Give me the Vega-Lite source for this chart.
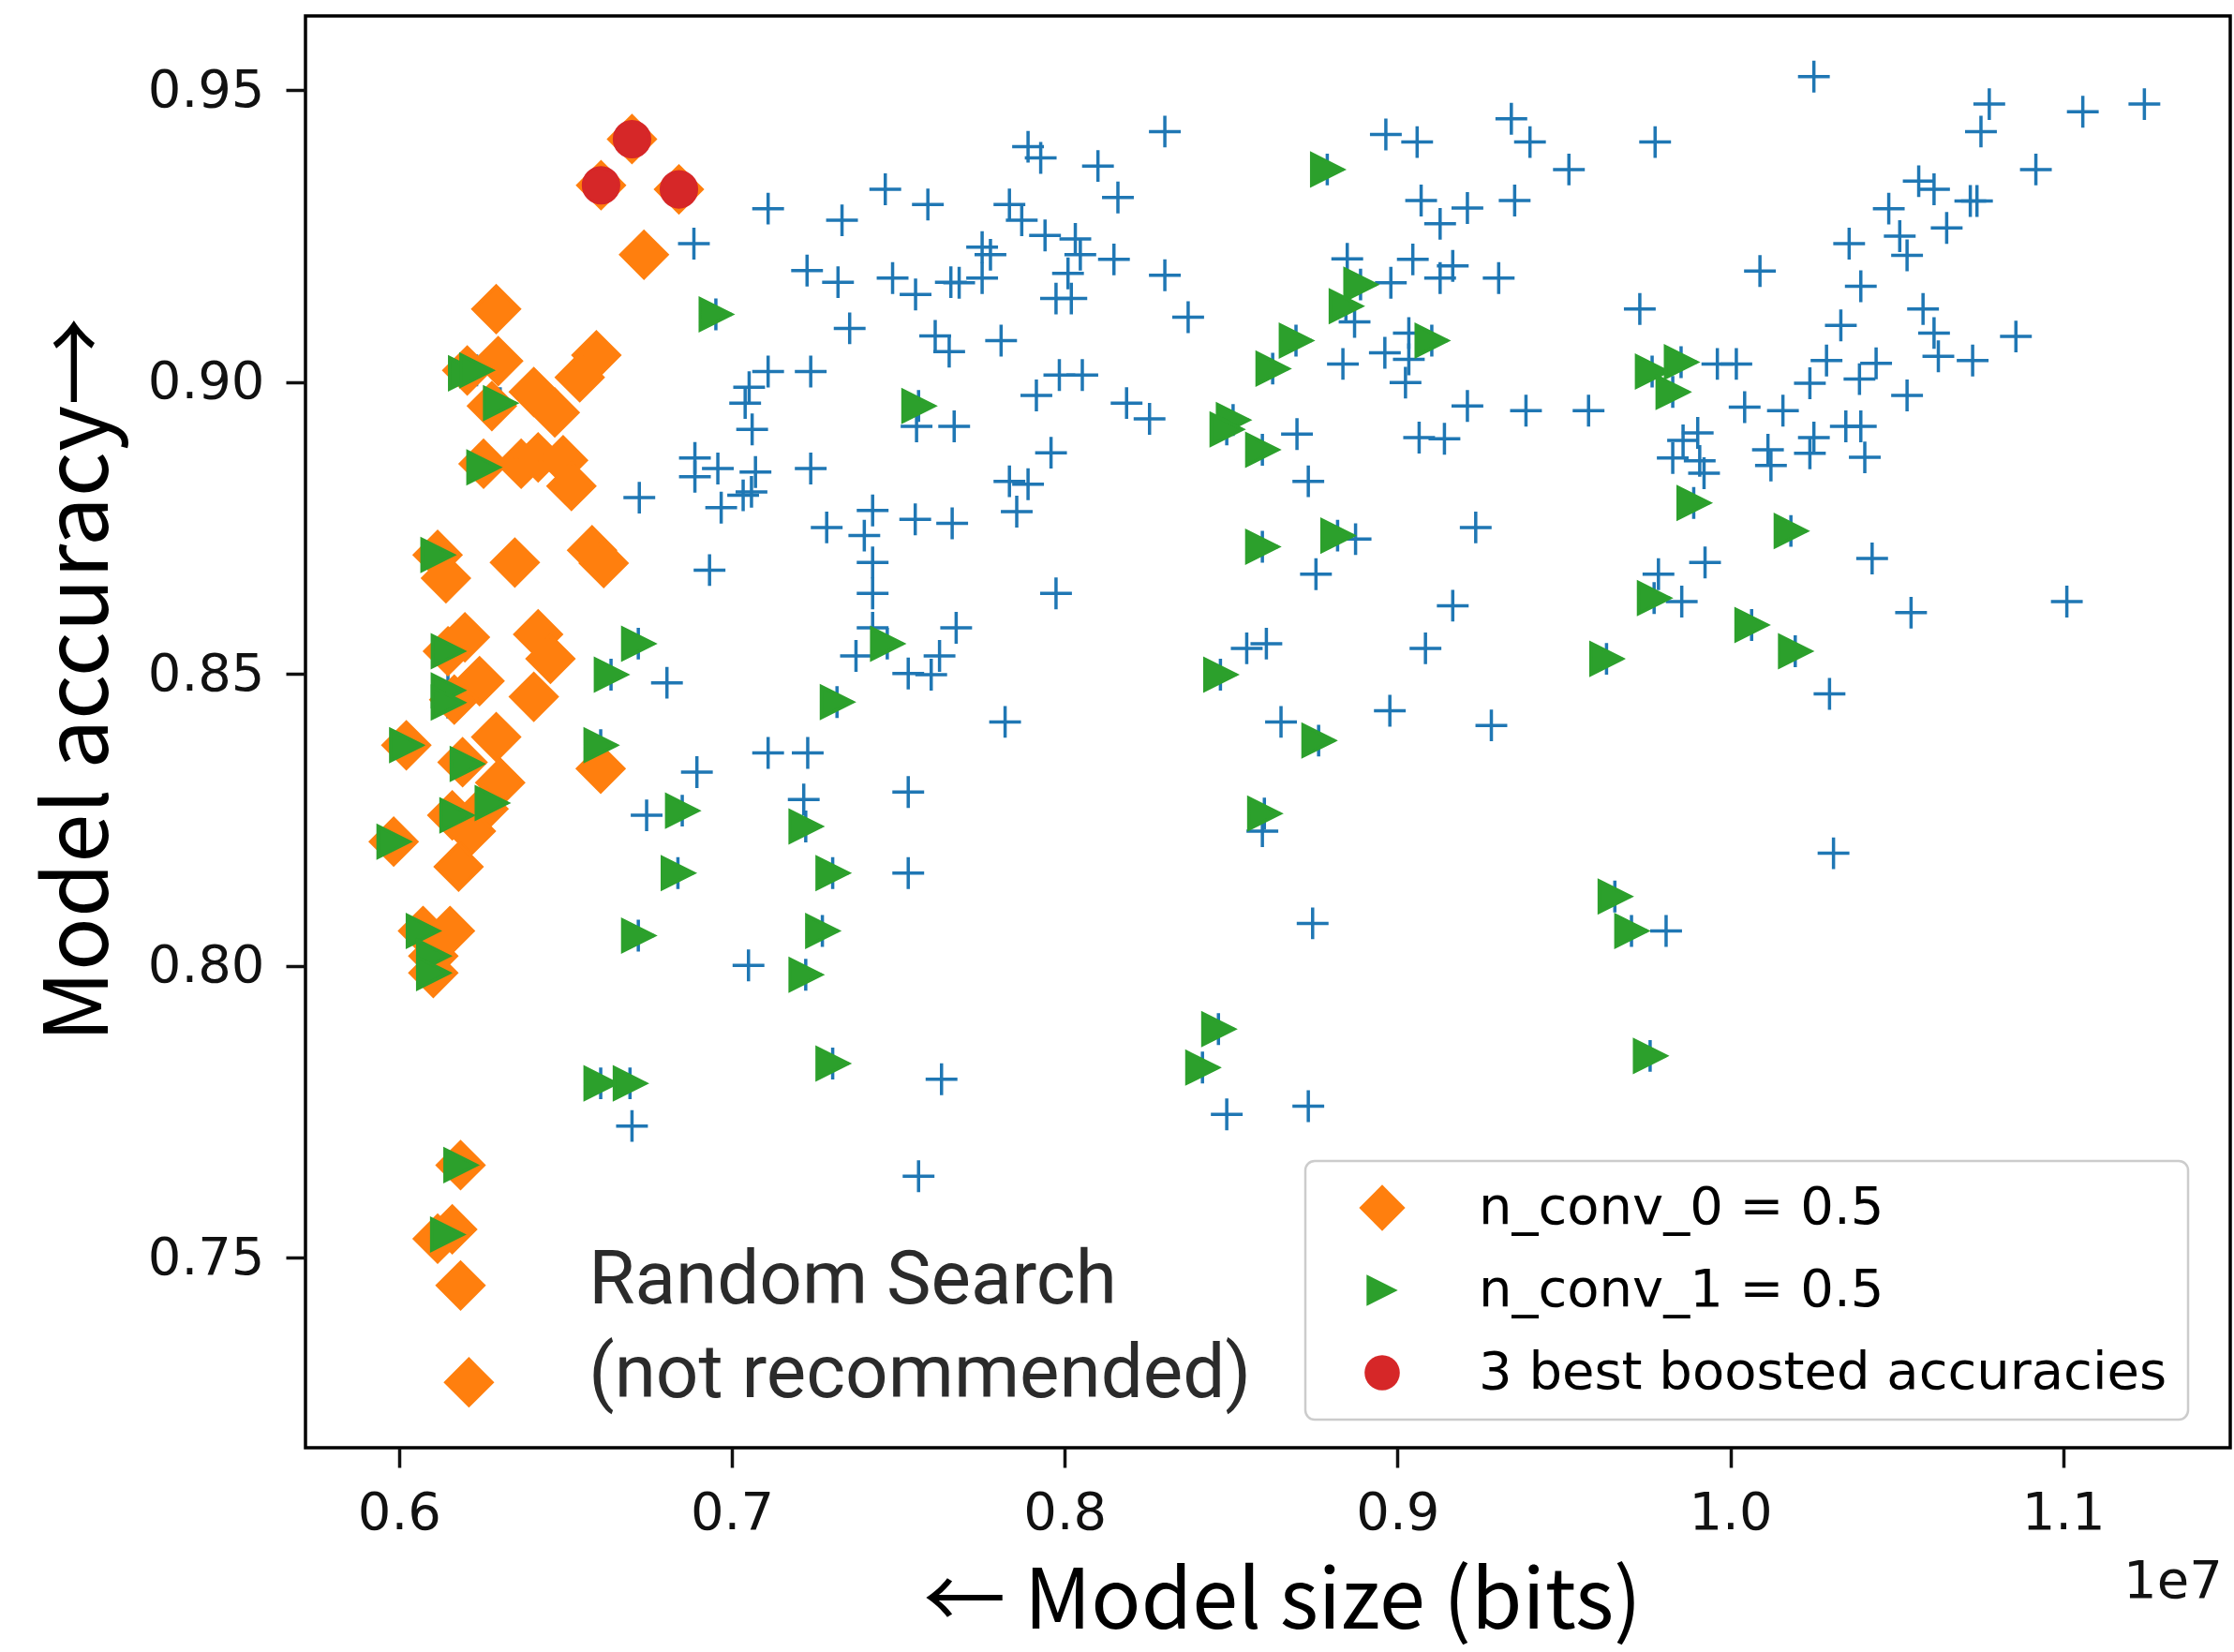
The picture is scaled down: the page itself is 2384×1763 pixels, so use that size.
{
"$schema": "https://vega.github.io/schema/vega-lite/v6.json",
"width": 2054,
"height": 1528,
"autosize": "none",
"padding": {"left": 326, "top": 17, "right": 4, "bottom": 218},
"background": "white",
"config": {
  "view": {"stroke": "#000000", "strokeWidth": 3.5},
  "axis": {"grid": false, "domain": false, "labelFont": "DejaVu Sans", "labelFontSize": 56, "labelColor": "#111111", "tickColor": "#111111", "tickSize": 21, "tickWidth": 3.5, "labelFlush": false, "titleFont": "Noto Sans CJK JP", "titleFontSize": 90, "titleFontWeight": "normal", "titleColor": "#000000"},
  "legend": {"labelFont": "DejaVu Sans", "labelFontSize": 56, "labelColor": "#000000", "padding": 22, "rowPadding": 32, "symbolOffset": 32, "labelOffset": 75, "symbolSize": 2809, "symbolStrokeWidth": 0, "fillColor": "rgba(255,255,255,0.8)", "strokeColor": "#cccccc", "strokeWidth": 2.5, "cornerRadius": 10, "labelLimit": 3000}
},
"layer": [
{
"data": {"values": [
{"bits":6886000,"acc":0.9237,"group":"all"},{"bits":7109000,"acc":0.9297,"group":"all"},{"bits":7331000,"acc":0.9277,"group":"all"},{"bits":7461000,"acc":0.9330,"group":"all"},{"bits":7589000,"acc":0.9304,"group":"all"},{"bits":7226000,"acc":0.9191,"group":"all"},{"bits":7319000,"acc":0.9171,"group":"all"},{"bits":7483000,"acc":0.9178,"group":"all"},{"bits":7552000,"acc":0.9150,"group":"all"},{"bits":7658000,"acc":0.9171,"group":"all"},
{"bits":7683000,"acc":0.9170,"group":"all"},{"bits":7354000,"acc":0.9092,"group":"all"},{"bits":7611000,"acc":0.9079,"group":"all"},{"bits":7653000,"acc":0.9052,"group":"all"},{"bits":7109000,"acc":0.9018,"group":"all"},{"bits":7237000,"acc":0.9018,"group":"all"},{"bits":7052000,"acc":0.8991,"group":"all"},{"bits":7040000,"acc":0.8964,"group":"all"},{"bits":7061000,"acc":0.8919,"group":"all"},{"bits":6889000,"acc":0.8870,"group":"all"},
{"bits":6889000,"acc":0.8838,"group":"all"},{"bits":6958000,"acc":0.8852,"group":"all"},{"bits":7071000,"acc":0.8846,"group":"all"},{"bits":7237000,"acc":0.8852,"group":"all"},{"bits":7555000,"acc":0.8924,"group":"all"},{"bits":7668000,"acc":0.8924,"group":"all"},{"bits":6722000,"acc":0.8802,"group":"all"},{"bits":6968000,"acc":0.8785,"group":"all"},{"bits":7034000,"acc":0.8806,"group":"all"},{"bits":7059000,"acc":0.8812,"group":"all"},
{"bits":7285000,"acc":0.8751,"group":"all"},{"bits":7423000,"acc":0.8780,"group":"all"},{"bits":7398000,"acc":0.8737,"group":"all"},{"bits":7551000,"acc":0.8765,"group":"all"},{"bits":7662000,"acc":0.8758,"group":"all"},{"bits":7423000,"acc":0.8691,"group":"all"},{"bits":7423000,"acc":0.8638,"group":"all"},{"bits":7423000,"acc":0.8579,"group":"all"},{"bits":7674000,"acc":0.8579,"group":"all"},{"bits":6933000,"acc":0.8678,"group":"all"},
{"bits":7373000,"acc":0.8531,"group":"all"},{"bits":7530000,"acc":0.8501,"group":"all"},{"bits":7599000,"acc":0.8499,"group":"all"},{"bits":7624000,"acc":0.8531,"group":"all"},{"bits":6805000,"acc":0.8485,"group":"all"},{"bits":7109000,"acc":0.8365,"group":"all"},{"bits":7228000,"acc":0.8365,"group":"all"},{"bits":6895000,"acc":0.8332,"group":"all"},{"bits":7216000,"acc":0.8285,"group":"all"},{"bits":7530000,"acc":0.8298,"group":"all"},
{"bits":6744000,"acc":0.8258,"group":"all"},{"bits":7530000,"acc":0.8159,"group":"all"},{"bits":7050000,"acc":0.8001,"group":"all"},{"bits":6700000,"acc":0.7726,"group":"all"},{"bits":7630000,"acc":0.7806,"group":"all"},{"bits":7561000,"acc":0.7640,"group":"all"},{"bits":7890000,"acc":0.9403,"group":"all"},{"bits":7928000,"acc":0.9384,"group":"all"},{"bits":8301000,"acc":0.9429,"group":"all"},{"bits":8100000,"acc":0.9370,"group":"all"},
{"bits":8160000,"acc":0.9316,"group":"all"},{"bits":7834000,"acc":0.9304,"group":"all"},{"bits":7871000,"acc":0.9277,"group":"all"},{"bits":7941000,"acc":0.9251,"group":"all"},{"bits":8032000,"acc":0.9245,"group":"all"},{"bits":8047000,"acc":0.9218,"group":"all"},{"bits":8148000,"acc":0.9210,"group":"all"},{"bits":7752000,"acc":0.9231,"group":"all"},{"bits":7777000,"acc":0.9218,"group":"all"},{"bits":7752000,"acc":0.9178,"group":"all"},
{"bits":8010000,"acc":0.9186,"group":"all"},{"bits":7974000,"acc":0.9143,"group":"all"},{"bits":8020000,"acc":0.9143,"group":"all"},{"bits":8301000,"acc":0.9183,"group":"all"},{"bits":8371000,"acc":0.9111,"group":"all"},{"bits":7809000,"acc":0.9071,"group":"all"},{"bits":7984000,"acc":0.9012,"group":"all"},{"bits":8053000,"acc":0.9012,"group":"all"},{"bits":7915000,"acc":0.8977,"group":"all"},{"bits":8186000,"acc":0.8964,"group":"all"},
{"bits":8255000,"acc":0.8937,"group":"all"},{"bits":7959000,"acc":0.8879,"group":"all"},{"bits":7834000,"acc":0.8830,"group":"all"},{"bits":7890000,"acc":0.8825,"group":"all"},{"bits":8965000,"acc":0.9424,"group":"all"},{"bits":9059000,"acc":0.9411,"group":"all"},{"bits":9342000,"acc":0.9451,"group":"all"},{"bits":9398000,"acc":0.9411,"group":"all"},{"bits":9515000,"acc":0.9364,"group":"all"},{"bits":9071000,"acc":0.9311,"group":"all"},
{"bits":9128000,"acc":0.9271,"group":"all"},{"bits":9210000,"acc":0.9298,"group":"all"},{"bits":9352000,"acc":0.9311,"group":"all"},{"bits":8849000,"acc":0.9211,"group":"all"},{"bits":9046000,"acc":0.9210,"group":"all"},{"bits":9166000,"acc":0.9199,"group":"all"},{"bits":9128000,"acc":0.9178,"group":"all"},{"bits":8980000,"acc":0.9170,"group":"all"},{"bits":9304000,"acc":0.9178,"group":"all"},{"bits":8871000,"acc":0.9103,"group":"all"},
{"bits":9034000,"acc":0.9084,"group":"all"},{"bits":8962000,"acc":0.9050,"group":"all"},{"bits":8836000,"acc":0.9031,"group":"all"},{"bits":9034000,"acc":0.9039,"group":"all"},{"bits":9024000,"acc":0.8999,"group":"all"},{"bits":9210000,"acc":0.8959,"group":"all"},{"bits":9386000,"acc":0.8951,"group":"all"},{"bits":9574000,"acc":0.8951,"group":"all"},{"bits":9065000,"acc":0.8905,"group":"all"},{"bits":9141000,"acc":0.8903,"group":"all"},
{"bits":8698000,"acc":0.8911,"group":"all"},{"bits":8732000,"acc":0.8830,"group":"all"},{"bits":10251000,"acc":0.9523,"group":"all"},{"bits":10778000,"acc":0.9476,"group":"all"},{"bits":11059000,"acc":0.9463,"group":"all"},{"bits":11244000,"acc":0.9476,"group":"all"},{"bits":10753000,"acc":0.9429,"group":"all"},{"bits":9774000,"acc":0.9411,"group":"all"},{"bits":10918000,"acc":0.9364,"group":"all"},{"bits":10566000,"acc":0.9344,"group":"all"},
{"bits":10612000,"acc":0.9330,"group":"all"},{"bits":10721000,"acc":0.9310,"group":"all"},{"bits":10741000,"acc":0.9310,"group":"all"},{"bits":10476000,"acc":0.9297,"group":"all"},{"bits":10650000,"acc":0.9264,"group":"all"},{"bits":10357000,"acc":0.9237,"group":"all"},{"bits":10509000,"acc":0.9250,"group":"all"},{"bits":10531000,"acc":0.9217,"group":"all"},{"bits":10089000,"acc":0.9190,"group":"all"},{"bits":10392000,"acc":0.9164,"group":"all"},
{"bits":9728000,"acc":0.9125,"group":"all"},{"bits":10332000,"acc":0.9097,"group":"all"},{"bits":10579000,"acc":0.9125,"group":"all"},{"bits":10612000,"acc":0.9084,"group":"all"},{"bits":10858000,"acc":0.9078,"group":"all"},{"bits":10625000,"acc":0.9044,"group":"all"},{"bits":10728000,"acc":0.9037,"group":"all"},{"bits":10289000,"acc":0.9037,"group":"all"},{"bits":10438000,"acc":0.9032,"group":"all"},{"bits":10388000,"acc":0.9005,"group":"all"},
{"bits":10239000,"acc":0.8998,"group":"all"},{"bits":10531000,"acc":0.8977,"group":"all"},{"bits":9961000,"acc":0.9031,"group":"all"},{"bits":10018000,"acc":0.9031,"group":"all"},{"bits":10043000,"acc":0.8957,"group":"all"},{"bits":10158000,"acc":0.8951,"group":"all"},{"bits":10347000,"acc":0.8924,"group":"all"},{"bits":10392000,"acc":0.8924,"group":"all"},{"bits":10251000,"acc":0.8905,"group":"all"},{"bits":10239000,"acc":0.8878,"group":"all"},
{"bits":10113000,"acc":0.8884,"group":"all"},{"bits":10122000,"acc":0.8857,"group":"all"},{"bits":10404000,"acc":0.8871,"group":"all"},{"bits":9902000,"acc":0.8913,"group":"all"},{"bits":9858000,"acc":0.8900,"group":"all"},{"bits":9827000,"acc":0.8870,"group":"all"},{"bits":9908000,"acc":0.8865,"group":"all"},{"bits":9921000,"acc":0.8844,"group":"all"},{"bits":7856000,"acc":0.8778,"group":"all"},{"bits":7974000,"acc":0.8638,"group":"all"},
{"bits":7821000,"acc":0.8418,"group":"all"},{"bits":8874000,"acc":0.8731,"group":"all"},{"bits":8755000,"acc":0.8671,"group":"all"},{"bits":9235000,"acc":0.8751,"group":"all"},{"bits":9166000,"acc":0.8617,"group":"all"},{"bits":9084000,"acc":0.8544,"group":"all"},{"bits":8547000,"acc":0.8544,"group":"all"},{"bits":8606000,"acc":0.8552,"group":"all"},{"bits":8650000,"acc":0.8418,"group":"all"},{"bits":8977000,"acc":0.8437,"group":"all"},
{"bits":9282000,"acc":0.8412,"group":"all"},{"bits":8594000,"acc":0.8231,"group":"all"},{"bits":8745000,"acc":0.8073,"group":"all"},{"bits":10426000,"acc":0.8698,"group":"all"},{"bits":9784000,"acc":0.8671,"group":"all"},{"bits":9924000,"acc":0.8691,"group":"all"},{"bits":9854000,"acc":0.8624,"group":"all"},{"bits":10543000,"acc":0.8605,"group":"all"},{"bits":11011000,"acc":0.8624,"group":"all"},{"bits":10298000,"acc":0.8466,"group":"all"},
{"bits":10310000,"acc":0.8193,"group":"all"},{"bits":9807000,"acc":0.8060,"group":"all"},{"bits":8487000,"acc":0.7746,"group":"all"},{"bits":8732000,"acc":0.7760,"group":"all"},
{"bits":6952000,"acc":0.9116,"group":"all"},{"bits":6199000,"acc":0.9015,"group":"all"},{"bits":6233000,"acc":0.9020,"group":"all"},{"bits":6304000,"acc":0.8964,"group":"all"},{"bits":6254000,"acc":0.8854,"group":"all"},{"bits":7561000,"acc":0.8959,"group":"all"},{"bits":6116000,"acc":0.8704,"group":"all"},{"bits":6147000,"acc":0.8539,"group":"all"},{"bits":6147000,"acc":0.8472,"group":"all"},{"bits":6147000,"acc":0.8451,"group":"all"},
{"bits":6022000,"acc":0.8378,"group":"all"},{"bits":6204000,"acc":0.8346,"group":"all"},{"bits":6279000,"acc":0.8279,"group":"all"},{"bits":6173000,"acc":0.8258,"group":"all"},{"bits":5984000,"acc":0.8213,"group":"all"},{"bits":6072000,"acc":0.8060,"group":"all"},{"bits":6103000,"acc":0.8017,"group":"all"},{"bits":6103000,"acc":0.7988,"group":"all"},{"bits":6719000,"acc":0.8552,"group":"all"},{"bits":6637000,"acc":0.8499,"group":"all"},
{"bits":7467000,"acc":0.8552,"group":"all"},{"bits":7316000,"acc":0.8452,"group":"all"},{"bits":6606000,"acc":0.8378,"group":"all"},{"bits":6851000,"acc":0.8266,"group":"all"},{"bits":7222000,"acc":0.8239,"group":"all"},{"bits":6838000,"acc":0.8159,"group":"all"},{"bits":7303000,"acc":0.8159,"group":"all"},{"bits":6719000,"acc":0.8052,"group":"all"},{"bits":7272000,"acc":0.8060,"group":"all"},{"bits":7222000,"acc":0.7985,"group":"all"},
{"bits":6606000,"acc":0.7799,"group":"all"},{"bits":6694000,"acc":0.7799,"group":"all"},{"bits":7303000,"acc":0.7833,"group":"all"},{"bits":6185000,"acc":0.7659,"group":"all"},{"bits":6145000,"acc":0.7540,"group":"all"},{"bits":8789000,"acc":0.9364,"group":"all"},{"bits":8889000,"acc":0.9167,"group":"all"},{"bits":8845000,"acc":0.9130,"group":"all"},{"bits":8695000,"acc":0.9071,"group":"all"},{"bits":8625000,"acc":0.9023,"group":"all"},
{"bits":9103000,"acc":0.9071,"group":"all"},{"bits":8506000,"acc":0.8935,"group":"all"},{"bits":8487000,"acc":0.8919,"group":"all"},{"bits":8594000,"acc":0.8884,"group":"all"},{"bits":8594000,"acc":0.8718,"group":"all"},{"bits":8820000,"acc":0.8737,"group":"all"},{"bits":8468000,"acc":0.8499,"group":"all"},{"bits":8763000,"acc":0.8386,"group":"all"},{"bits":8600000,"acc":0.8261,"group":"all"},{"bits":8462000,"acc":0.7892,"group":"all"},
{"bits":8414000,"acc":0.7826,"group":"all"},{"bits":9765000,"acc":0.9018,"group":"all"},{"bits":9852000,"acc":0.9034,"group":"all"},{"bits":9827000,"acc":0.8983,"group":"all"},{"bits":9890000,"acc":0.8793,"group":"all"},{"bits":9771000,"acc":0.8630,"group":"all"},{"bits":10182000,"acc":0.8745,"group":"all"},{"bits":10064000,"acc":0.8584,"group":"all"},{"bits":10195000,"acc":0.8539,"group":"all"},{"bits":9628000,"acc":0.8526,"group":"all"},
{"bits":9653000,"acc":0.8119,"group":"all"},{"bits":9703000,"acc":0.8060,"group":"all"},{"bits":9759000,"acc":0.7846,"group":"all"},
{"bits":6700000,"acc":0.9416,"group":"n_conv_0 = 0.5"},{"bits":6607000,"acc":0.9337,"group":"n_conv_0 = 0.5"},{"bits":6841000,"acc":0.9330,"group":"n_conv_0 = 0.5"},{"bits":6736000,"acc":0.9218,"group":"n_conv_0 = 0.5"},{"bits":6292000,"acc":0.9125,"group":"n_conv_0 = 0.5"},{"bits":6298000,"acc":0.9036,"group":"n_conv_0 = 0.5"},{"bits":6593000,"acc":0.9046,"group":"n_conv_0 = 0.5"},{"bits":6543000,"acc":0.9008,"group":"n_conv_0 = 0.5"},
{"bits":6205000,"acc":0.9020,"group":"n_conv_0 = 0.5"},{"bits":6405000,"acc":0.8983,"group":"n_conv_0 = 0.5"},{"bits":6468000,"acc":0.8948,"group":"n_conv_0 = 0.5"},{"bits":6279000,"acc":0.8959,"group":"n_conv_0 = 0.5"},{"bits":6254000,"acc":0.8860,"group":"n_conv_0 = 0.5"},{"bits":6367000,"acc":0.8860,"group":"n_conv_0 = 0.5"},{"bits":6418000,"acc":0.8871,"group":"n_conv_0 = 0.5"},{"bits":6493000,"acc":0.8866,"group":"n_conv_0 = 0.5"},
{"bits":6518000,"acc":0.8822,"group":"n_conv_0 = 0.5"},{"bits":6116000,"acc":0.8704,"group":"n_conv_0 = 0.5"},{"bits":6141000,"acc":0.8664,"group":"n_conv_0 = 0.5"},{"bits":6348000,"acc":0.8691,"group":"n_conv_0 = 0.5"},{"bits":6580000,"acc":0.8712,"group":"n_conv_0 = 0.5"},{"bits":6615000,"acc":0.8690,"group":"n_conv_0 = 0.5"},{"bits":6198000,"acc":0.8563,"group":"n_conv_0 = 0.5"},{"bits":6418000,"acc":0.8568,"group":"n_conv_0 = 0.5"},
{"bits":6455000,"acc":0.8526,"group":"n_conv_0 = 0.5"},{"bits":6405000,"acc":0.8461,"group":"n_conv_0 = 0.5"},{"bits":6242000,"acc":0.8488,"group":"n_conv_0 = 0.5"},{"bits":6166000,"acc":0.8456,"group":"n_conv_0 = 0.5"},{"bits":6147000,"acc":0.8539,"group":"n_conv_0 = 0.5"},{"bits":6022000,"acc":0.8378,"group":"n_conv_0 = 0.5"},{"bits":6292000,"acc":0.8392,"group":"n_conv_0 = 0.5"},{"bits":6191000,"acc":0.8349,"group":"n_conv_0 = 0.5"},
{"bits":6304000,"acc":0.8314,"group":"n_conv_0 = 0.5"},{"bits":6254000,"acc":0.8269,"group":"n_conv_0 = 0.5"},{"bits":6216000,"acc":0.8231,"group":"n_conv_0 = 0.5"},{"bits":6160000,"acc":0.8258,"group":"n_conv_0 = 0.5"},{"bits":5984000,"acc":0.8213,"group":"n_conv_0 = 0.5"},{"bits":6179000,"acc":0.8170,"group":"n_conv_0 = 0.5"},{"bits":6072000,"acc":0.8060,"group":"n_conv_0 = 0.5"},{"bits":6153000,"acc":0.8060,"group":"n_conv_0 = 0.5"},
{"bits":6103000,"acc":0.8017,"group":"n_conv_0 = 0.5"},{"bits":6103000,"acc":0.7988,"group":"n_conv_0 = 0.5"},{"bits":6185000,"acc":0.7659,"group":"n_conv_0 = 0.5"},{"bits":6116000,"acc":0.7533,"group":"n_conv_0 = 0.5"},{"bits":6160000,"acc":0.7549,"group":"n_conv_0 = 0.5"},{"bits":6185000,"acc":0.7453,"group":"n_conv_0 = 0.5"},{"bits":6210000,"acc":0.7287,"group":"n_conv_0 = 0.5"},{"bits":6606000,"acc":0.8338,"group":"n_conv_0 = 0.5"},
{"bits":6952000,"acc":0.9116,"group":"n_conv_1 = 0.5"},{"bits":6199000,"acc":0.9015,"group":"n_conv_1 = 0.5"},{"bits":6233000,"acc":0.9020,"group":"n_conv_1 = 0.5"},{"bits":6304000,"acc":0.8964,"group":"n_conv_1 = 0.5"},{"bits":6254000,"acc":0.8854,"group":"n_conv_1 = 0.5"},{"bits":7561000,"acc":0.8959,"group":"n_conv_1 = 0.5"},{"bits":6116000,"acc":0.8704,"group":"n_conv_1 = 0.5"},{"bits":6147000,"acc":0.8539,"group":"n_conv_1 = 0.5"},
{"bits":6147000,"acc":0.8472,"group":"n_conv_1 = 0.5"},{"bits":6147000,"acc":0.8451,"group":"n_conv_1 = 0.5"},{"bits":6022000,"acc":0.8378,"group":"n_conv_1 = 0.5"},{"bits":6204000,"acc":0.8346,"group":"n_conv_1 = 0.5"},{"bits":6279000,"acc":0.8279,"group":"n_conv_1 = 0.5"},{"bits":6173000,"acc":0.8258,"group":"n_conv_1 = 0.5"},{"bits":5984000,"acc":0.8213,"group":"n_conv_1 = 0.5"},{"bits":6072000,"acc":0.8060,"group":"n_conv_1 = 0.5"},
{"bits":6103000,"acc":0.8017,"group":"n_conv_1 = 0.5"},{"bits":6103000,"acc":0.7988,"group":"n_conv_1 = 0.5"},{"bits":6719000,"acc":0.8552,"group":"n_conv_1 = 0.5"},{"bits":6637000,"acc":0.8499,"group":"n_conv_1 = 0.5"},{"bits":7467000,"acc":0.8552,"group":"n_conv_1 = 0.5"},{"bits":7316000,"acc":0.8452,"group":"n_conv_1 = 0.5"},{"bits":6606000,"acc":0.8378,"group":"n_conv_1 = 0.5"},{"bits":6851000,"acc":0.8266,"group":"n_conv_1 = 0.5"},
{"bits":7222000,"acc":0.8239,"group":"n_conv_1 = 0.5"},{"bits":6838000,"acc":0.8159,"group":"n_conv_1 = 0.5"},{"bits":7303000,"acc":0.8159,"group":"n_conv_1 = 0.5"},{"bits":6719000,"acc":0.8052,"group":"n_conv_1 = 0.5"},{"bits":7272000,"acc":0.8060,"group":"n_conv_1 = 0.5"},{"bits":7222000,"acc":0.7985,"group":"n_conv_1 = 0.5"},{"bits":6606000,"acc":0.7799,"group":"n_conv_1 = 0.5"},{"bits":6694000,"acc":0.7799,"group":"n_conv_1 = 0.5"},
{"bits":7303000,"acc":0.7833,"group":"n_conv_1 = 0.5"},{"bits":6185000,"acc":0.7659,"group":"n_conv_1 = 0.5"},{"bits":6145000,"acc":0.7540,"group":"n_conv_1 = 0.5"},{"bits":8789000,"acc":0.9364,"group":"n_conv_1 = 0.5"},{"bits":8889000,"acc":0.9167,"group":"n_conv_1 = 0.5"},{"bits":8845000,"acc":0.9130,"group":"n_conv_1 = 0.5"},{"bits":8695000,"acc":0.9071,"group":"n_conv_1 = 0.5"},{"bits":8625000,"acc":0.9023,"group":"n_conv_1 = 0.5"},
{"bits":9103000,"acc":0.9071,"group":"n_conv_1 = 0.5"},{"bits":8506000,"acc":0.8935,"group":"n_conv_1 = 0.5"},{"bits":8487000,"acc":0.8919,"group":"n_conv_1 = 0.5"},{"bits":8594000,"acc":0.8884,"group":"n_conv_1 = 0.5"},{"bits":8594000,"acc":0.8718,"group":"n_conv_1 = 0.5"},{"bits":8820000,"acc":0.8737,"group":"n_conv_1 = 0.5"},{"bits":8468000,"acc":0.8499,"group":"n_conv_1 = 0.5"},{"bits":8763000,"acc":0.8386,"group":"n_conv_1 = 0.5"},
{"bits":8600000,"acc":0.8261,"group":"n_conv_1 = 0.5"},{"bits":8462000,"acc":0.7892,"group":"n_conv_1 = 0.5"},{"bits":8414000,"acc":0.7826,"group":"n_conv_1 = 0.5"},{"bits":9765000,"acc":0.9018,"group":"n_conv_1 = 0.5"},{"bits":9852000,"acc":0.9034,"group":"n_conv_1 = 0.5"},{"bits":9827000,"acc":0.8983,"group":"n_conv_1 = 0.5"},{"bits":9890000,"acc":0.8793,"group":"n_conv_1 = 0.5"},{"bits":9771000,"acc":0.8630,"group":"n_conv_1 = 0.5"},
{"bits":10182000,"acc":0.8745,"group":"n_conv_1 = 0.5"},{"bits":10064000,"acc":0.8584,"group":"n_conv_1 = 0.5"},{"bits":10195000,"acc":0.8539,"group":"n_conv_1 = 0.5"},{"bits":9628000,"acc":0.8526,"group":"n_conv_1 = 0.5"},{"bits":9653000,"acc":0.8119,"group":"n_conv_1 = 0.5"},{"bits":9703000,"acc":0.8060,"group":"n_conv_1 = 0.5"},{"bits":9759000,"acc":0.7846,"group":"n_conv_1 = 0.5"},
{"bits":6700000,"acc":0.9416,"group":"3 best boosted accuracies"},{"bits":6607000,"acc":0.9337,"group":"3 best boosted accuracies"},{"bits":6841000,"acc":0.9330,"group":"3 best boosted accuracies"}
]},
"mark": {"type": "point", "filled": true, "opacity": 1, "size": 2809, "strokeWidth": 3.5, "strokeCap": "butt", "strokeJoin": "miter"},
"encoding": {
  "x": {"field": "bits", "type": "quantitative", "scale": {"domain": [5719000, 11502000], "nice": false, "zero": false},
        "axis": {"values": [6000000, 7000000, 8000000, 9000000, 10000000, 11000000], "labelExpr": "format(datum.value / 10000000, '.1f')", "title": "← Model size (bits)", "labelPadding": 21, "titleFontSize": 88, "titleX": 1042, "titleY": 192, "titleBaseline": "alphabetic", "titleAlign": "center"}},
  "y": {"field": "acc", "type": "quantitative", "scale": {"domain": [0.7175, 0.9627], "nice": false, "zero": false},
        "axis": {"values": [0.75, 0.8, 0.85, 0.9, 0.95], "format": ".2f", "title": "Model accuracy→", "labelPadding": 23, "titleFontSize": 94, "titleX": -212, "titleY": 708, "titleBaseline": "alphabetic", "titleAngle": -90, "titleAlign": "center"}},
  "color": {"field": "group", "type": "nominal",
        "scale": {"domain": ["all", "n_conv_0 = 0.5", "n_conv_1 = 0.5", "3 best boosted accuracies"], "range": ["#1f77b4", "#ff7f0e", "#2ca02c", "#d62728"]},
        "legend": {"title": null, "orient": "none", "legendX": 1067, "legendY": 1222, "direction": "vertical", "values": ["n_conv_0 = 0.5", "n_conv_1 = 0.5", "3 best boosted accuracies"]}},
  "shape": {"field": "group", "type": "nominal",
        "scale": {"domain": ["all", "n_conv_0 = 0.5", "n_conv_1 = 0.5", "3 best boosted accuracies"], "range": ["M-0.64,0L0.64,0M0,-0.64L0,0.64", "M0,-0.93L0.93,0L0,0.93L-0.93,0Z", "M0.63,0L-0.63,0.63L-0.63,-0.63Z", "M0.71,0A0.71,0.71,0,1,1,-0.71,0A0.71,0.71,0,1,1,0.71,0Z"]},
        "legend": {"title": null, "orient": "none", "legendX": 1067, "legendY": 1222, "direction": "vertical", "values": ["n_conv_0 = 0.5", "n_conv_1 = 0.5", "3 best boosted accuracies"]}},
  "stroke": {"field": "group", "type": "nominal",
        "scale": {"domain": ["all", "n_conv_0 = 0.5", "n_conv_1 = 0.5", "3 best boosted accuracies"], "range": ["#1f77b4", "#ff7f0e", "#2ca02c", "#d62728"]},
        "legend": null}
}
},
{
"data": {"values": [{"bits": 6570000, "acc": 0.7422, "label": "Random Search"}, {"bits": 6570000, "acc": 0.7262, "label": "(not recommended)"}]},
"mark": {"type": "text", "align": "left", "baseline": "alphabetic", "font": "Roboto", "fontSize": 80, "color": "#2b2b2b"},
"encoding": {
  "x": {"field": "bits", "type": "quantitative", "scale": {"domain": [5719000, 11502000], "nice": false, "zero": false},
        "axis": {"values": [6000000, 7000000, 8000000, 9000000, 10000000, 11000000], "labelExpr": "format(datum.value / 10000000, '.1f')", "title": "← Model size (bits)", "labelPadding": 21, "titleFontSize": 88, "titleX": 1042, "titleY": 192, "titleBaseline": "alphabetic", "titleAlign": "center"}},
  "y": {"field": "acc", "type": "quantitative", "scale": {"domain": [0.7175, 0.9627], "nice": false, "zero": false},
        "axis": {"values": [0.75, 0.8, 0.85, 0.9, 0.95], "format": ".2f", "title": "Model accuracy→", "labelPadding": 23, "titleFontSize": 94, "titleX": -212, "titleY": 708, "titleBaseline": "alphabetic", "titleAngle": -90, "titleAlign": "center"}},
  "text": {"field": "label", "type": "nominal"}
}
},
{
"data": {"values": [{"bits": 11479000, "acc": 0.6918, "label": "1e7"}]},
"mark": {"type": "text", "align": "right", "baseline": "alphabetic", "font": "DejaVu Sans", "fontSize": 56, "color": "#111111", "clip": false},
"encoding": {
  "x": {"field": "bits", "type": "quantitative", "scale": {"domain": [5719000, 11502000], "nice": false, "zero": false},
        "axis": {"values": [6000000, 7000000, 8000000, 9000000, 10000000, 11000000], "labelExpr": "format(datum.value / 10000000, '.1f')", "title": "← Model size (bits)", "labelPadding": 21, "titleFontSize": 88, "titleX": 1042, "titleY": 192, "titleBaseline": "alphabetic", "titleAlign": "center"}},
  "y": {"field": "acc", "type": "quantitative", "scale": {"domain": [0.7175, 0.9627], "nice": false, "zero": false},
        "axis": {"values": [0.75, 0.8, 0.85, 0.9, 0.95], "format": ".2f", "title": "Model accuracy→", "labelPadding": 23, "titleFontSize": 94, "titleX": -212, "titleY": 708, "titleBaseline": "alphabetic", "titleAngle": -90, "titleAlign": "center"}},
  "text": {"field": "label", "type": "nominal"}
}
}
]
}
